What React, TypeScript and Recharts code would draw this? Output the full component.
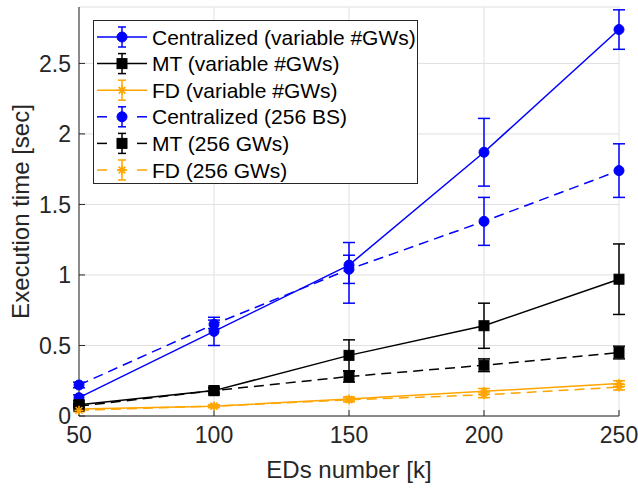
import React from 'react';
import { ComposedChart, Line, XAxis, YAxis, CartesianGrid, ErrorBar } from 'recharts';

const edsNumber = [50, 100, 150, 200, 250];

const centralizedVar = [0.13, 0.6, 1.07, 1.87, 2.74];
const centralizedVarErr = [[0.02, 0.02], [0.1, 0.1], [0.27, 0.16], [0.24, 0.24], [0.14, 0.14]];
const mtVar = [0.08, 0.18, 0.43, 0.64, 0.97];
const mtVarErr = [[0.01, 0.01], [0.02, 0.02], [0.11, 0.11], [0.16, 0.16], [0.25, 0.25]];
const fdVar = [0.05, 0.07, 0.12, 0.175, 0.23];
const fdVarErr = [[0.01, 0.01], [0.01, 0.01], [0.015, 0.015], [0.02, 0.02], [0.02, 0.02]];

const centralized256 = [0.22, 0.65, 1.04, 1.38, 1.74];
const centralized256Err = [[0.02, 0.02], [0.03, 0.03], [0.1, 0.1], [0.17, 0.17], [0.19, 0.19]];
const mt256 = [0.07, 0.18, 0.28, 0.36, 0.45];
const mt256Err = [[0.01, 0.01], [0.02, 0.02], [0.04, 0.04], [0.045, 0.045], [0.045, 0.045]];
const fd256 = [0.04, 0.07, 0.115, 0.15, 0.205];
const fd256Err = [[0.01, 0.01], [0.01, 0.01], [0.015, 0.015], [0.02, 0.02], [0.02, 0.02]];

const xTicks = [50, 100, 150, 200, 250];
const yTicks = [0, 0.5, 1, 1.5, 2, 2.5];

const data = edsNumber.map((x, i) => ({
  x,
  cVar: centralizedVar[i], cVarErr: centralizedVarErr[i],
  mtVar: mtVar[i], mtVarErr: mtVarErr[i],
  fdVar: fdVar[i], fdVarErr: fdVarErr[i],
  c256: centralized256[i], c256Err: centralized256Err[i],
  mt256: mt256[i], mt256Err: mt256Err[i],
  fd256: fd256[i], fd256Err: fd256Err[i],
}));

const BLUE = '#0000ff';
const BLACK = '#000000';
const ORANGE = '#ffa500';
const AXIS = '#262626';
const FONT = '"Liberation Sans", Arial, Helvetica, sans-serif';

type Marker = 'circle' | 'square' | 'star';

const drawMarker = (kind: Marker, cx: number, cy: number, color: string, key?: string) => {
  if (kind === 'circle') return <circle key={key} cx={cx} cy={cy} r={5} fill={color} stroke={color} />;
  if (kind === 'square') return <rect key={key} x={cx - 5} y={cy - 5} width={10} height={10} fill={color} stroke={color} />;
  const s = 4.5;
  return (
    <g key={key} stroke={color} strokeWidth={1.6}>
      <line x1={cx - s} y1={cy} x2={cx + s} y2={cy} />
      <line x1={cx} y1={cy - s} x2={cx} y2={cy + s} />
      <line x1={cx - s * 0.75} y1={cy - s * 0.75} x2={cx + s * 0.75} y2={cy + s * 0.75} />
      <line x1={cx - s * 0.75} y1={cy + s * 0.75} x2={cx + s * 0.75} y2={cy - s * 0.75} />
    </g>
  );
};

const dotFor = (kind: Marker, color: string) => (p: any) =>
  drawMarker(kind, p.cx, p.cy, color, `${kind}-${color}-${p.index}`);

const series = [
  { key: 'cVar', err: 'cVarErr', name: 'Centralized (variable #GWs)', color: BLUE, marker: 'circle' as Marker, dashed: false },
  { key: 'mtVar', err: 'mtVarErr', name: 'MT (variable #GWs)', color: BLACK, marker: 'square' as Marker, dashed: false },
  { key: 'fdVar', err: 'fdVarErr', name: 'FD (variable #GWs)', color: ORANGE, marker: 'star' as Marker, dashed: false },
  { key: 'c256', err: 'c256Err', name: 'Centralized (256 BS)', color: BLUE, marker: 'circle' as Marker, dashed: true },
  { key: 'mt256', err: 'mt256Err', name: 'MT (256 GWs)', color: BLACK, marker: 'square' as Marker, dashed: true },
  { key: 'fd256', err: 'fd256Err', name: 'FD (256 GWs)', color: ORANGE, marker: 'star' as Marker, dashed: true },
];

const LegendBox = () => {
  const rowH = 26.6;
  return (
    <svg width={325} height={164} style={{ position: 'absolute', left: 93, top: 20 }}>
      <rect x={0.5} y={0.5} width={324} height={163} fill="#fff" stroke={AXIS} strokeWidth={1} />
      {series.map((s, i) => {
        const cy = 17 + rowH * i;
        const mx = 29;
        return (
          <g key={s.key}>
            {s.dashed ? (
              <g stroke={s.color} strokeWidth={1.5}>
                <line x1={4} y1={cy} x2={14} y2={cy} />
                <line x1={44} y1={cy} x2={54} y2={cy} />
                <line x1={mx - 5} y1={cy} x2={mx + 5} y2={cy} />
              </g>
            ) : (
              <line x1={4} y1={cy} x2={54} y2={cy} stroke={s.color} strokeWidth={1.5} />
            )}
            <g stroke={s.color} strokeWidth={1.5}>
              <line x1={mx} y1={cy - 10} x2={mx} y2={cy + 10} />
              <line x1={mx - 4} y1={cy - 10} x2={mx + 4} y2={cy - 10} />
              <line x1={mx - 4} y1={cy + 10} x2={mx + 4} y2={cy + 10} />
            </g>
            {drawMarker(s.marker, mx, cy, s.color)}
            <text x={59} y={cy + 7.5} fontSize={21} fontFamily={FONT} fill="#000">{s.name}</text>
          </g>
        );
      })}
    </svg>
  );
};

const YLabel = (props: any) => {
  const vb = props.viewBox || { x: 0, y: 0, height: 0 };
  const cy = vb.y + vb.height / 2;
  return (
    <text transform={`translate(29, ${cy}) rotate(-90)`} textAnchor="middle" fontSize={24} fontFamily={FONT} fill={AXIS}>
      Execution time [sec]
    </text>
  );
};

export default function App() {
  return (
    <div style={{ position: 'absolute', left: 0, top: 0, width: 638, height: 489, background: '#fff' }}>
      <ComposedChart width={638} height={489} data={data} margin={{ top: 7, right: 19, bottom: 0, left: 0 }}>
        <CartesianGrid stroke="#e0e0e0" strokeWidth={1} />
        <XAxis
          dataKey="x"
          type="number"
          domain={[50, 250]}
          ticks={xTicks}
          height={73}
          stroke={AXIS}
          tickSize={-6}
          tickMargin={17}
          tick={{ fill: AXIS, fontSize: 23, fontFamily: FONT }}
          label={{ value: 'EDs number [k]', position: 'insideBottom', offset: 11, fill: AXIS, fontSize: 24, fontFamily: FONT }}
        />
        <YAxis
          type="number"
          domain={[0, 2.9]}
          ticks={yTicks}
          width={79}
          stroke={AXIS}
          tickSize={-6}
          tickMargin={14}
          tick={{ fill: AXIS, fontSize: 23, fontFamily: FONT }}
          label={{ content: YLabel }}
        />
        {series.map((s) => (
          <Line
            key={s.key}
            type="linear"
            dataKey={s.key}
            stroke={s.color}
            strokeWidth={1.5}
            strokeDasharray={s.dashed ? '10 6' : undefined}
            dot={dotFor(s.marker, s.color)}
            activeDot={false}
            isAnimationActive={false}
          >
            <ErrorBar dataKey={s.err} direction="y" width={6} stroke={s.color} strokeWidth={1.5} isAnimationActive={false} />
          </Line>
        ))}
      </ComposedChart>
      <LegendBox />
    </div>
  );
}
